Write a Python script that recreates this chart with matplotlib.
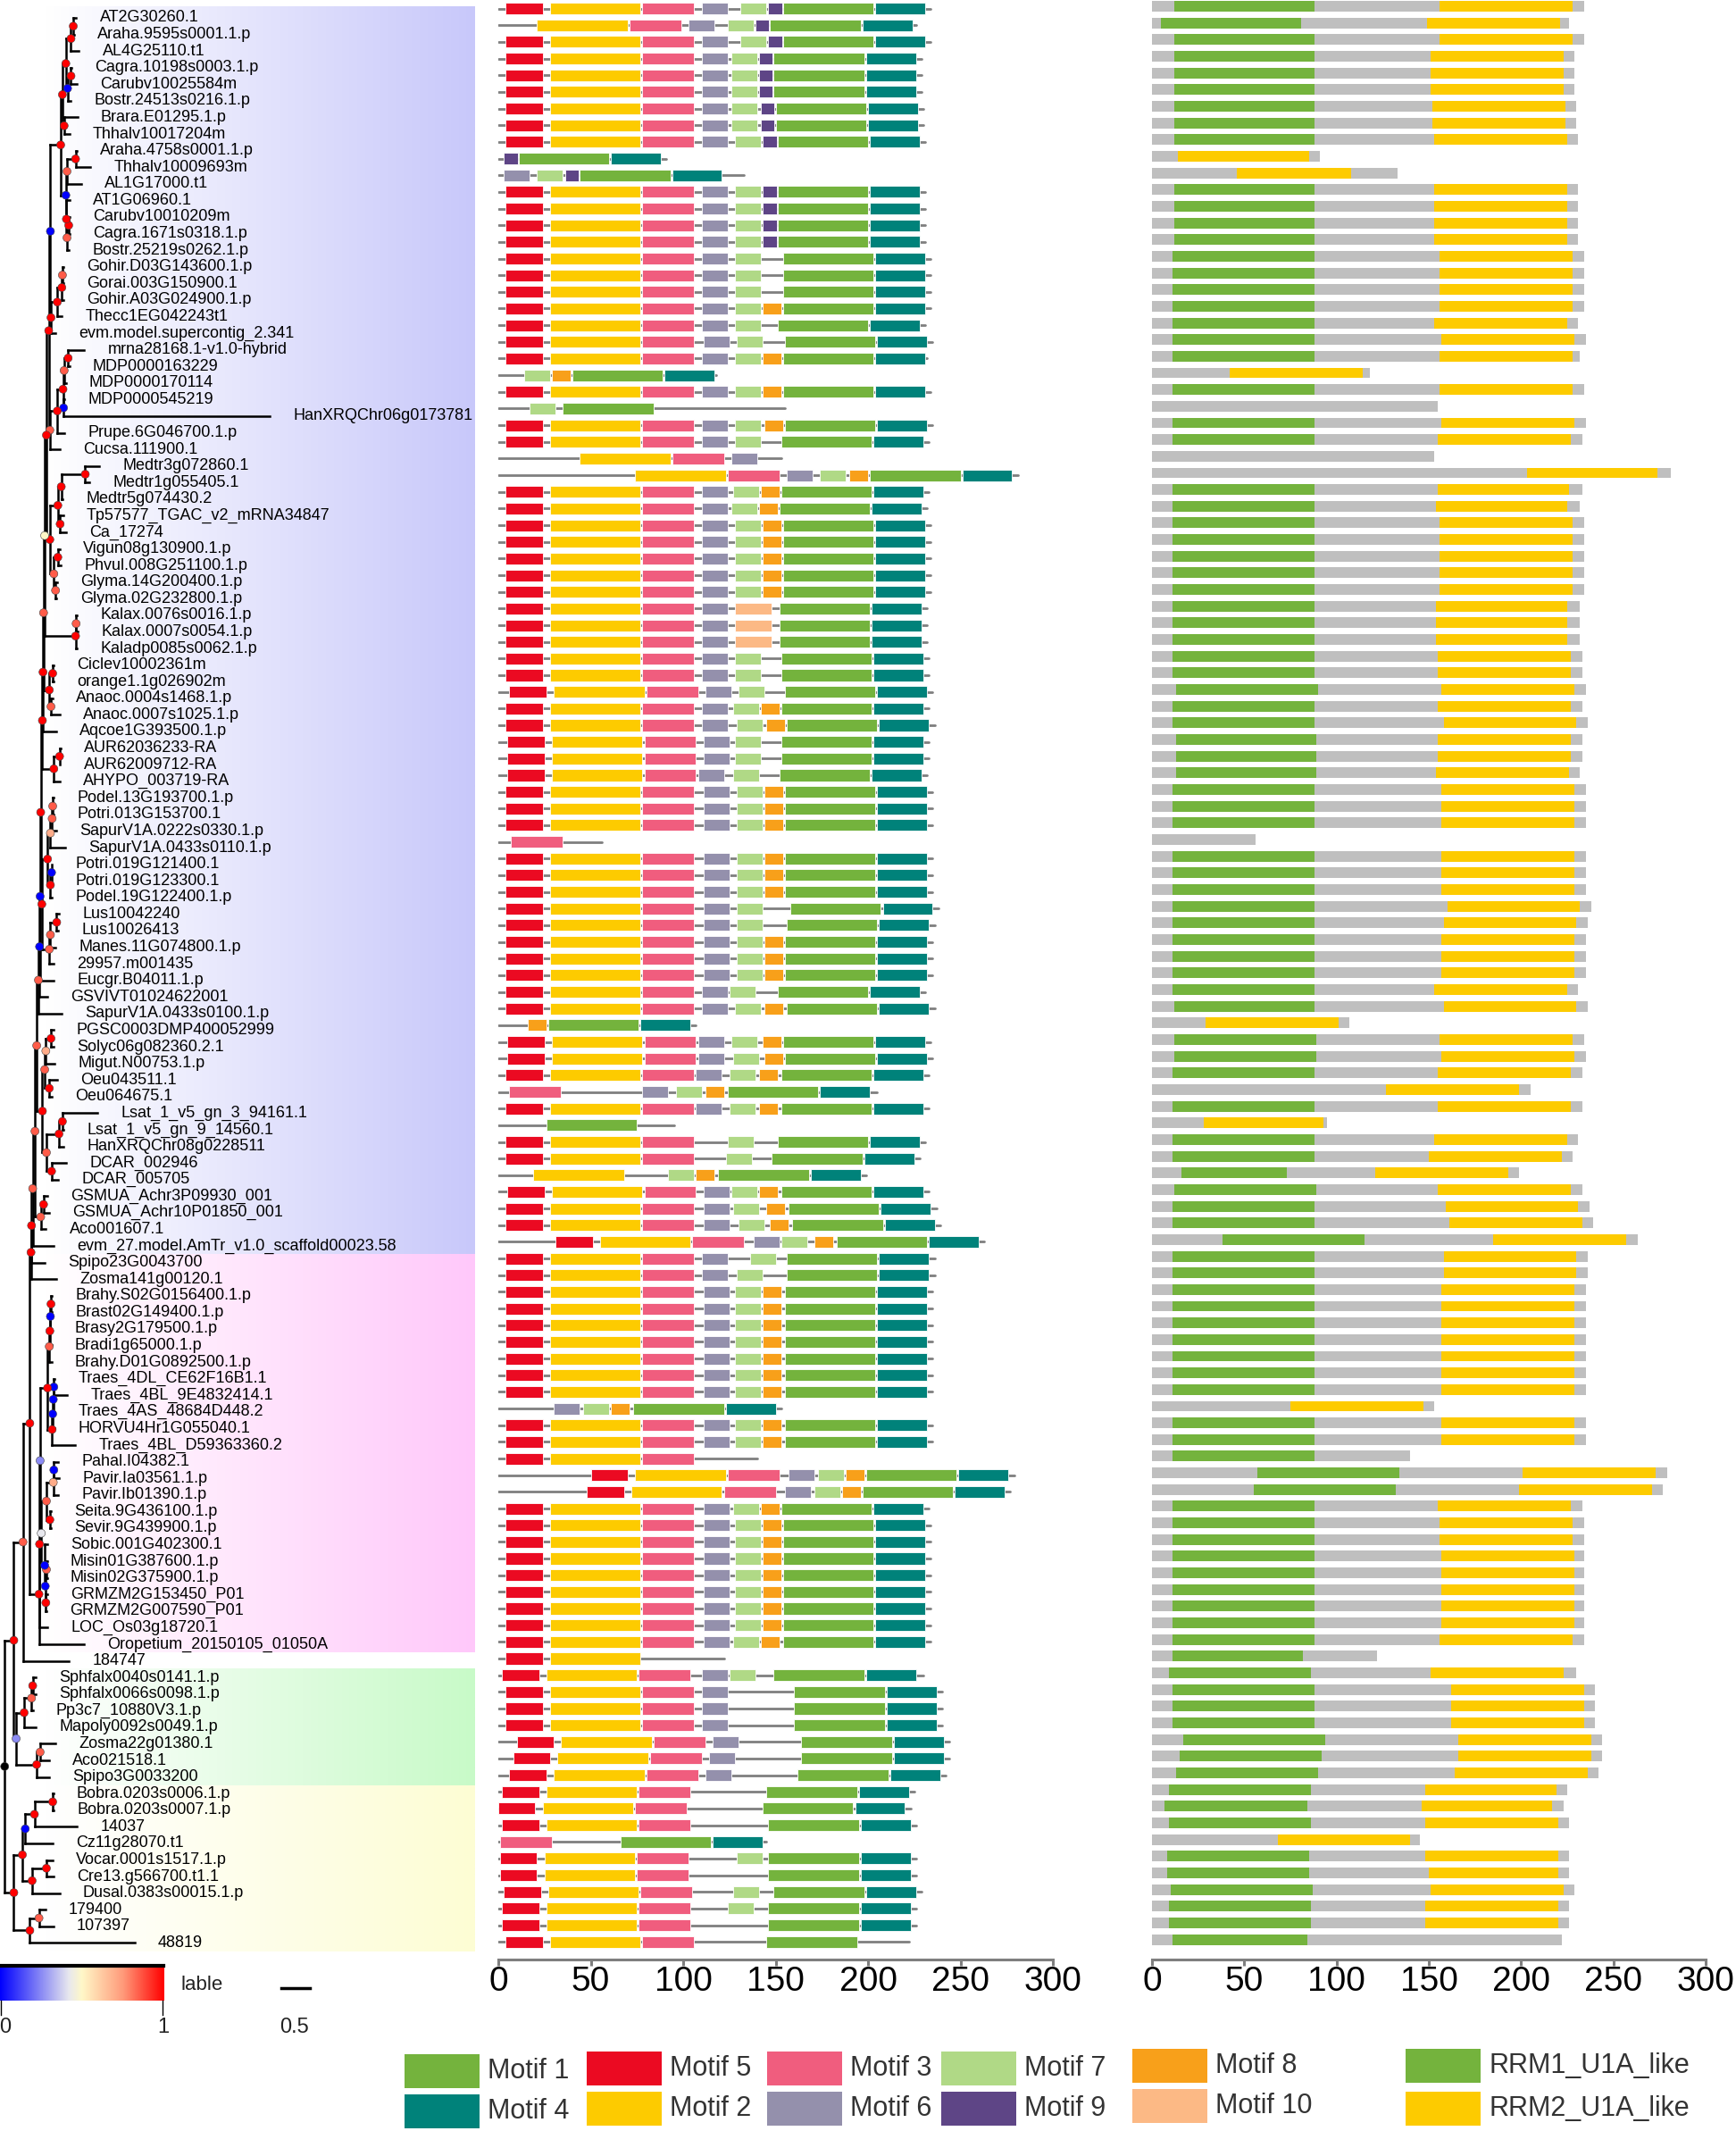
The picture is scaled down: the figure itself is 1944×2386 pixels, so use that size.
import matplotlib
matplotlib.use("Agg")
import matplotlib.pyplot as plt
import numpy as np
from matplotlib.patches import Rectangle
from matplotlib.collections import LineCollection
from matplotlib.colors import LinearSegmentedColormap, to_rgb

plt.rcParams['font.family'] = ['Liberation Sans', 'DejaVu Sans']

W, H, DPI = 1944, 2386, 100

# ---------------------------------------------------------------- tree data
# newick-like clades: "support:depth" after each clade, "name:depth" for tips
# (depth = distance from the root, substitutions per site)
brassicaceae = (
    "(((((AT2G30260.1:1.25,Araha.9595s0001.1.p:1.21)1.0:1.20,AL4G25110.t1:1.30)1.0:1.16,"
    "((Cagra.10198s0003.1.p:1.17,Carubv10025584m:1.26)1.0:1.16,Bostr.24513s0216.1.p:1.15)0.0:1.10)1.0:1.07,"
    "(Brara.E01295.1.p:1.27,Thhalv10017204m:1.13)1.0:1.04)1.0:1.01,"
    "(((Araha.4758s0001.1.p:1.26,Thhalv10009693m:1.50)1.0:1.24,AL1G17000.t1:1.34)0.85:1.09,"
    "(AT1G06960.1:1.14,((Carubv10010209m:1.14,Cagra.1671s0318.1.p:1.14)1.0:1.12,"
    "Bostr.25219s0262.1.p:1.12)0.85:1.09)1.0:1.08)0.0:1.07)1.0:0.98"
)
malvales = (
    "((((Gohir.D03G143600.1.p:1.03,Gorai.003G150900.1:1.03)0.85:1.01,Gohir.A03G024900.1.p:1.03)1.0:1.00,"
    "Thecc1EG042243t1:1.00)1.0:0.92,evm.model.supercontig_2.341:0.89)1.0:0.81"
)
rosales = (
    "(((((mrna28168.1-v1.0-hybrid:1.39,MDP0000163229:1.13)1.0:1.11,MDP0000170114:1.07)0.85:1.04,"
    "(MDP0000545219:1.05,HanXRQChr06g0173781:4.64)0.0:1.03)1.0:1.02,Prupe.6G046700.1.p:1.05)1.0:0.92,"
    "Cucsa.111900.1:0.96)0.85:0.79"
)
fabaceae = (
    "((((Medtr3g072860.1:1.66,Medtr1g055405.1:1.48)1.0:1.41,Medtr5g074430.2:1.01)1.0:0.99,"
    "(Tp57577_TGAC_v2_mRNA34847:1.02,Ca_17274:1.07)1.0:0.97)1.0:0.93,"
    "((Vigun08g130900.1.p:0.96,Phvul.008G251100.1.p:0.98)1.0:0.93,"
    "(Glyma.14G200400.1.p:0.92,Glyma.02G232800.1.p:0.91)0.85:0.89)0.85:0.86)1.0:0.79"
)
kalanchoe = ("((Kalax.0076s0016.1.p:1.26,Kalax.0007s0054.1.p:1.28)0.85:1.25,"
             "Kaladp0085s0062.1.p:1.26)1.0:1.24")
sapindales = ("((Ciclev10002361m:0.85,orange1.1g026902m:0.86)1.0:0.84,"
              "(Anaoc.0004s1468.1.p:0.84,Anaoc.0007s1025.1.p:0.96)0.85:0.81)1.0:0.78")
amaranthaceae = "((AUR62036233-RA:0.98,AUR62009712-RA:0.97)1.0:0.96,AHYPO_003719-RA:0.96)1.0:0.86"
malpighiales = (
    "(((((Podel.13G193700.1.p:0.86,Potri.013G153700.1:0.86)0.85:0.84,SapurV1A.0222s0330.1.p:0.90)0.85:0.83,"
    "SapurV1A.0433s0110.1.p:1.06)0.7:0.80,((Potri.019G121400.1:0.83,Potri.019G123300.1:0.83)0.0:0.82,"
    "Podel.19G122400.1.p:0.83)1.0:0.80)1.0:0.75,(((Lus10042240:0.95,Lus10026413:0.93)1.0:0.91,"
    "Manes.11G074800.1.p:0.89)0.85:0.80,29957.m001435:0.85)0.85:0.78)1.0:0.65"
)
asterids = (
    "((((PGSC0003DMP400052999:0.85,Solyc06g082360.2.1:0.85)1.0:0.81,Migut.N00753.1.p:0.87)0.7:0.72,"
    "(Oeu043511.1:0.92,Oeu064675.1:0.82)1.0:0.78)0.85:0.70,"
    "(((Lsat_1_v5_gn_3_94161.1:1.62,Lsat_1_v5_gn_9_14560.1:1.03)1.0:1.01,HanXRQChr08g0228511:1.03)1.0:0.95,"
    "(DCAR_002946:1.08,DCAR_005705:0.93)1.0:0.82)0.85:0.73)1.0:0.66"
)
monocots = ("((GSMUA_Achr3P09930_001:0.74,GSMUA_Achr10P01850_001:0.77)1.0:0.68,"
            "Aco001607.1:0.72)0.85:0.63")
# ladder of the seed-plant backbone: (clade joined, support, depth)
backbone = [
    (malvales, 0.0, 0.80), (rosales, 1.0, 0.77), (fabaceae, 1.0, 0.73), (kalanchoe, 0.5, 0.70),
    (sapindales, 0.85, 0.68), ("Aqcoe1G393500.1.p:0.90", 1.0, 0.67), (amaranthaceae, 1.0, 0.66),
    (malpighiales, 1.0, 0.63), ("Eucgr.B04011.1.p:0.86", 0.0, 0.62),
    ("GSVIVT01024622001:0.74", 0.0, 0.61), ("SapurV1A.0433s0100.1.p:0.99", 0.85, 0.59),
    (asterids, 0.85, 0.56), (monocots, 0.85, 0.53),
    ("evm_27.model.AmTr_v1.0_scaffold00023.58:0.85", 0.85, 0.49),
    ("Spipo23G0043700:0.70", 1.0, 0.47), ("Zosma141g00120.1:0.90", 1.0, 0.46),
]
pooideae = (
    "(((((Brahy.S02G0156400.1.p:0.83,Brast02G149400.1.p:0.83)1.0:0.81,Brasy2G179500.1.p:0.81)0.0:0.80,"
    "Bradi1g65000.1.p:0.82)1.0:0.79,Brahy.D01G0892500.1.p:0.82)0.85:0.78,"
    "((((Traes_4DL_CE62F16B1.1:0.87,Traes_4BL_9E4832414.1:1.09)0.0:0.86,Traes_4AS_48684D448.2:0.87)0.0:0.85,"
    "HORVU4Hr1G055040.1:0.87)0.0:0.84,Traes_4BL_D59363360.2:1.23)1.0:0.83)1.0:0.75"
)
panicoideae = (
    "((((Pahal.I04382.1:0.94,Pavir.Ia03561.1.p:0.95)0.0:0.86,Pavir.Ib01390.1.p:0.93)0.7:0.85,"
    "(Seita.9G436100.1.p:0.81,Sevir.9G439900.1.p:0.81)1.0:0.79)0.85:0.73,"
    "(Sobic.001G402300.1:0.74,((Misin01G387600.1.p:0.74,Misin02G375900.1.p:0.74)0.85:0.73,"
    "(GRMZM2G153450_P01:0.74,GRMZM2G007590_P01:0.73)1.0:0.72)0.0:0.71)0.0:0.70)0.42:0.64"
)
grasses = ("(((" + pooideae + "," + panicoideae + ")0.25:0.62,LOC_Os03g18720.1:0.75)1.0:0.61,"
           "Oropetium_20150105_01050A:1.38)1.0:0.60")
bryophytes = (
    "((((Sphfalx0040s0141.1.p:0.54,Sphfalx0066s0098.1.p:0.54)1.0:0.49,Pp3c7_10880V3.1.p:0.49)0.85:0.47,"
    "Mapoly0092s0049.1.p:0.55)1.0:0.34,((Zosma22g01380.1:0.89,Aco021518.1:0.78)0.85:0.62,"
    "Spipo3G0033200:0.77)1.0:0.56)0.25:0.20"
)
algae = (
    "(((((Bobra.0203s0006.1.p:0.85,Bobra.0203s0007.1.p:0.86)1.0:0.84,14037:1.26)1.0:0.52,"
    "Cz11g28070.t1:0.84)0.0:0.36,((Vocar.0001s1517.1.p:0.84,Cre13.g566700.t1.1:0.86)1.0:0.73,"
    "Dusal.0383s00015.1.p:0.96)1.0:0.48)1.0:0.31,((179400:0.71,107397:0.85)0.85:0.60,48819:2.27)1.0:0.44)1.0:0.16"
)

# ---------------------------------------------------------------- protein data (aa)
protein_len = [
    234, 226, 234, 229, 229, 229, 230, 230, 231, 91, 133, 231, 231, 231, 231, 234, 234, 234, 234, 231,
    235, 232, 118, 234, 155, 235, 233, 153, 281, 233, 232, 234, 234, 234, 234, 234, 232, 232, 232, 233,
    233, 235, 233, 236, 233, 233, 232, 235, 235, 235, 56, 235, 235, 235, 238, 236, 235, 235, 235, 231,
    236, 107, 234, 235, 233, 205, 233, 95, 231, 228, 199, 233, 237, 239, 263, 236, 236, 235, 235, 235,
    235, 235, 235, 235, 153, 235, 235, 140, 279, 277, 233, 234, 234, 234, 234, 234, 234, 234, 234, 122,
    230, 240, 240, 240, 244, 244, 242, 225, 223, 226, 145, 226, 226, 229, 226, 226, 222,
]

# "motif:start" for each protein, top to bottom
motif_sites = [
    "5:4 2:28 3:78 6:110 7:131 9:146 1:154 4:204", "2:21 3:71 6:103 7:124 9:139 1:147 4:197",
    "5:4 2:28 3:78 6:110 7:131 9:146 1:154 4:204", "5:4 2:28 3:78 6:110 7:126 9:141 1:149 4:199",
    "5:4 2:28 3:78 6:110 7:126 9:141 1:149 4:199", "5:4 2:28 3:78 6:110 7:126 9:141 1:149 4:199",
    "5:4 2:28 3:78 6:110 7:126 9:142 1:150 4:200", "5:4 2:28 3:78 6:110 7:126 9:142 1:150 4:200",
    "5:4 2:28 3:78 6:110 7:128 9:143 1:151 4:201", "9:3 1:11 4:61",
    "6:3 7:21 9:36 1:44 4:94", "5:4 2:28 3:78 6:110 7:128 9:143 1:151 4:201",
    "5:4 2:28 3:78 6:110 7:128 9:143 1:151 4:201", "5:4 2:28 3:78 6:110 7:128 9:143 1:151 4:201",
    "5:4 2:28 3:78 6:110 7:128 9:143 1:151 4:201", "5:4 2:28 3:78 6:110 7:128 1:154 4:204",
    "5:4 2:28 3:78 6:110 7:128 1:154 4:204", "5:4 2:28 3:78 6:110 7:128 1:154 4:204",
    "5:4 2:28 3:78 6:110 7:128 8:143 1:154 4:204", "5:4 2:28 3:78 6:110 7:128 1:151 4:201",
    "5:4 2:28 3:78 6:111 7:129 1:155 4:205", "5:4 2:28 3:78 6:110 7:128 8:143 1:154 4:204",
    "7:14 8:29 1:40 4:90", "5:4 2:28 3:78 6:110 7:128 8:143 1:154 4:204",
    "7:17 1:35", "5:4 2:28 3:78 6:110 7:128 8:144 1:155 4:205",
    "5:4 2:28 3:78 6:110 7:128 1:153 4:203", "2:44 3:94 6:126",
    "2:74 3:124 6:156 7:174 8:190 1:201 4:251", "5:4 2:28 3:78 6:110 7:127 8:142 1:153 4:203",
    "5:4 2:28 3:78 6:110 7:126 8:141 1:152 4:202", "5:4 2:28 3:78 6:110 7:128 8:143 1:154 4:204",
    "5:4 2:28 3:78 6:110 7:128 8:143 1:154 4:204", "5:4 2:28 3:78 6:110 7:128 8:143 1:154 4:204",
    "5:4 2:28 3:78 6:110 7:128 8:143 1:154 4:204", "5:4 2:28 3:78 6:110 7:128 8:143 1:154 4:204",
    "5:4 2:28 3:78 6:110 10:128 1:152 4:202", "5:4 2:28 3:78 6:110 10:128 1:152 4:202",
    "5:4 2:28 3:78 6:110 10:128 1:152 4:202", "5:4 2:28 3:78 6:110 7:128 1:153 4:203",
    "5:4 2:28 3:78 6:110 7:128 1:153 4:203", "5:6 2:30 3:80 6:112 7:130 1:155 4:205",
    "5:4 2:28 3:78 6:110 7:127 8:142 1:153 4:203", "5:4 2:28 3:78 6:110 7:129 8:145 1:156 4:206",
    "5:5 2:29 3:79 6:111 7:128 1:153 4:203", "5:5 2:29 3:79 6:111 7:128 1:153 4:203",
    "5:5 2:29 3:79 6:108 7:127 1:152 4:202", "5:4 2:28 3:78 6:111 7:129 8:144 1:155 4:205",
    "5:4 2:28 3:78 6:111 7:129 8:144 1:155 4:205", "5:4 2:28 3:78 6:111 7:129 8:144 1:155 4:205",
    "3:7", "5:4 2:28 3:78 6:111 7:129 8:144 1:155 4:205",
    "5:4 2:28 3:78 6:111 7:129 8:144 1:155 4:205", "5:4 2:28 3:78 6:111 7:129 8:144 1:155 4:205",
    "5:4 2:28 3:78 6:111 7:129 1:158 4:208", "5:4 2:28 3:78 6:111 7:129 1:156 4:206",
    "5:4 2:28 3:78 6:111 7:129 8:144 1:155 4:205", "5:4 2:28 3:78 6:111 7:129 8:144 1:155 4:205",
    "5:4 2:28 3:78 6:111 7:129 8:144 1:155 4:205", "5:4 2:28 3:78 6:110 7:125 1:151 4:201",
    "5:4 2:28 3:78 6:110 7:128 8:144 1:156 4:206", "8:16 1:27 4:77",
    "5:5 2:29 3:79 6:108 7:126 8:143 1:154 4:204", "5:5 2:29 3:79 6:108 7:127 8:144 1:155 4:205",
    "5:4 2:28 3:78 6:107 7:125 8:141 1:153 4:203", "3:6 6:78 7:96 8:112 1:124 4:174",
    "5:4 2:28 3:78 6:107 7:125 8:141 1:153 4:203", "1:26",
    "5:4 2:28 3:78 7:124 1:151 4:201", "5:4 2:28 3:78 7:123 1:148 4:198",
    "2:19 7:92 8:107 1:119 4:169", "5:5 2:29 3:79 6:111 7:126 8:141 1:153 4:203",
    "5:4 2:28 3:78 6:111 7:127 8:145 1:157 4:207", "5:4 2:28 3:78 6:111 7:130 8:147 1:159 4:209",
    "5:31 2:55 3:105 6:138 7:153 8:171 1:183 4:233", "5:4 2:28 3:78 6:110 7:136 1:156 4:206",
    "5:4 2:28 3:78 6:110 7:129 1:156 4:206", "5:4 2:28 3:78 6:111 7:128 8:143 1:155 4:205",
    "5:4 2:28 3:78 6:111 7:128 8:143 1:155 4:205", "5:4 2:28 3:78 6:111 7:128 8:143 1:155 4:205",
    "5:4 2:28 3:78 6:111 7:128 8:143 1:155 4:205", "5:4 2:28 3:78 6:111 7:128 8:143 1:155 4:205",
    "5:4 2:28 3:78 6:111 7:128 8:143 1:155 4:205", "5:4 2:28 3:78 6:111 7:128 8:143 1:155 4:205",
    "6:30 7:46 8:61 1:73 4:123", "5:4 2:28 3:78 6:111 7:128 8:143 1:155 4:205",
    "5:4 2:28 3:78 6:111 7:128 8:143 1:155 4:205", "5:4 2:28 3:78",
    "5:50 2:74 3:124 6:157 7:173 8:188 1:199 4:249", "5:48 2:72 3:122 6:155 7:171 8:186 1:197 4:247",
    "5:4 2:28 3:78 6:111 7:127 8:142 1:153 4:203", "5:4 2:28 3:78 6:111 7:128 8:143 1:154 4:204",
    "5:4 2:28 3:78 6:111 7:128 8:143 1:154 4:204", "5:4 2:28 3:78 6:111 7:128 8:143 1:154 4:204",
    "5:4 2:28 3:78 6:111 7:128 8:143 1:154 4:204", "5:4 2:28 3:78 6:111 7:128 8:143 1:154 4:204",
    "5:4 2:28 3:78 6:111 7:128 8:143 1:154 4:204", "5:4 2:28 3:78 6:111 7:128 8:143 1:154 4:204",
    "5:4 2:28 3:78 6:111 7:127 8:142 1:154 4:204", "5:4 2:28",
    "5:2 2:26 3:76 6:110 7:125 1:149 4:199", "5:4 2:28 3:78 6:110 1:160 4:210",
    "5:4 2:28 3:78 6:110 1:160 4:210", "5:4 2:28 3:78 6:110 1:160 4:210",
    "5:10 2:34 3:84 6:116 1:164 4:214", "5:8 2:32 3:82 6:114 1:164 4:214",
    "5:6 2:30 3:80 6:112 1:162 4:212", "5:2 2:26 3:76 1:145 4:195",
    "5:0 2:24 3:74 1:143 4:193", "5:2 2:26 3:76 1:146 4:196",
    "3:1 1:66 4:116", "5:1 2:25 3:75 7:129 1:146 4:196",
    "5:1 2:25 3:75 1:146 4:196", "5:3 2:27 3:77 7:127 1:149 4:199",
    "5:2 2:26 3:76 7:124 1:146 4:196", "5:2 2:26 3:76 1:146 4:196",
    "5:4 2:28 3:78 1:145",
]
motif_width = {1: 49, 2: 49, 3: 28, 4: 27, 5: 20, 6: 14, 7: 14, 8: 10, 9: 7.5, 10: 20}

# conserved domains (start, end), None when absent
rrm1 = ([(12, 88), (5, 81)] + [(12, 88)] * 7 + [None, None] + [(12, 88)] * 4
        + [(11, 88)] * 7 + [None, (11, 88), None, (11, 88), (11, 88), None, None]
        + [(11, 88)] * 12 + [(13, 90), (11, 88), (11, 88), (13, 89), (13, 89), (13, 89)]
        + [(11, 88)] * 3 + [None] + [(11, 88)] * 9 + [(12, 88), None, (12, 89), (12, 89), (11, 88), None,
        (11, 88), None, (11, 88), (11, 88), (16, 73), (12, 89), (11, 88), (11, 88), (38, 115)]
        + [(11, 88)] * 9 + [None] + [(11, 88)] * 3 + [(57, 134), (55, 132)] + [(11, 88)] * 9
        + [(11, 82), (9, 86), (11, 88), (11, 88), (11, 88), (17, 94), (15, 92), (13, 90), (9, 86), (7, 84),
        (9, 86), None, (8, 85), (8, 85), (10, 87), (9, 86), (9, 86), (11, 84)])
rrm2 = ([(156, 228), (149, 221), (156, 228)] + [(151, 223)] * 3 + [(152, 224)] * 2 + [(153, 225)]
        + [(14, 85), (46, 108)] + [(153, 225)] * 4 + [(156, 228)] * 4
        + [(153, 225), (157, 229), (156, 228), (42, 114), (156, 228), None, (157, 229), (155, 227), None,
        (203, 274), (155, 226), (154, 225)] + [(156, 228)] * 5 + [(154, 225)] * 3 + [(155, 227)] * 2
        + [(157, 229), (155, 227), (158, 230), (155, 227), (155, 227), (154, 226)] + [(157, 229)] * 3
        + [None] + [(157, 229)] * 3 + [(160, 232), (158, 230)] + [(157, 229)] * 3
        + [(153, 225), (158, 230), (29, 101), (156, 228), (157, 229), (155, 227), (127, 199), (155, 227),
        (28, 93), (153, 225), (150, 222), (121, 193), (155, 227), (159, 231), (161, 233), (185, 257)]
        + [(158, 230)] * 2 + [(157, 229)] * 7 + [(75, 147)] + [(157, 229)] * 2
        + [None, (201, 273), (199, 271), (155, 227), (156, 228), (156, 228)] + [(157, 229)] * 5
        + [(156, 228), None, (151, 223)] + [(162, 234)] * 3
        + [(166, 238), (166, 238), (164, 236), (148, 219), (146, 217), (148, 220), (68, 140), (148, 220),
        (150, 220), (151, 223), (148, 220), (148, 220), None])

# background bands behind the tree (first row, last row, colour)
bands = [(0.35, 75.5, '#c8c8fa'), (75.5, 99.5, '#ffc8fa'), (100.5, 107.5, '#c8fac8'), (107.5, 117.5, '#fdfdd4')]

motif_colors = {1: '#74b33d', 2: '#fdcb00', 3: '#f05d7e', 4: '#00827a', 5: '#eb0a22',
                6: '#9490ac', 7: '#b0d986', 8: '#f8a01a', 9: '#5e4586', 10: '#fcb985'}
legend_cols = [[('Motif 1', 1), ('Motif 4', 4)], [('Motif 5', 5), ('Motif 2', 2)],
               [('Motif 3', 3), ('Motif 6', 6)], [('Motif 7', 7), ('Motif 9', 9)],
               [('Motif 8', 8), ('Motif 10', 10)], [('RRM1_U1A_like', 1), ('RRM2_U1A_like', 2)]]

support_cmap = LinearSegmentedColormap.from_list(
    'lable', [(0.0, '#0000ff'), (0.42, '#e8e8ee'), (0.5, '#fff8c8'), (0.75, '#ff9a7a'), (1.0, '#ff0000')])


def parse_newick(text):
    pos = 0

    def token():
        nonlocal pos
        start = pos
        while pos < len(text) and text[pos] not in ',():;':
            pos += 1
        return text[start:pos]

    def node():
        nonlocal pos
        kids = []
        if text[pos] == '(':
            pos += 1
            kids.append(node())
            while text[pos] == ',':
                pos += 1
                kids.append(node())
            pos += 1
        label = token()
        depth = 0.0
        if pos < len(text) and text[pos] == ':':
            pos += 1
            depth = float(token())
        return {'label': label, 'depth': depth, 'kids': kids}

    return node()


# assemble the full tree
seed = brassicaceae
for clade, sup, dep in backbone:
    seed = "({},{}){}:{}".format(seed, clade, sup, dep)
land = "(({},{})1.0:0.44,184747:1.12)0.85:0.32".format(seed, grasses)
tree_text = "(({},{})1.0:0.16,{})NA:0;".format(land, bryophytes, algae)
root = parse_newick(tree_text)

leaves = []


def layout(n):
    if not n['kids']:
        leaves.append(n)
        n['y'] = len(leaves)
    else:
        for k in n['kids']:
            layout(k)
        n['y'] = (n['kids'][0]['y'] + n['kids'][-1]['y']) / 2


layout(root)

fig = plt.figure(figsize=(W / DPI, H / DPI), dpi=DPI)
bottom = 1 - 2194 / H
height = 2194 / H

# ---------------------------------------------------------------- tree panel
ax_t = fig.add_axes([0, bottom, 560 / W, height])
for r0, r1, col in bands:
    rgb = np.array(to_rgb(col))
    t = np.linspace(0, 1, 256)[:, None]
    grad = (1 - t * (1 - rgb))[None, :, :].repeat(2, axis=0)
    ax_t.imshow(grad, extent=(0.70, 8.23, r1, r0), aspect='auto', interpolation='bilinear', zorder=0)

segs, nodes_x, nodes_y, nodes_c = [], [], [], []


def collect(n):
    if not n['kids']:
        return
    d = n['depth']
    segs.append([(d, n['kids'][0]['y']), (d, n['kids'][-1]['y'])])
    for k in n['kids']:
        segs.append([(d, k['y']), (k['depth'], k['y'])])
        collect(k)
    nodes_x.append(d)
    nodes_y.append(n['y'])
    nodes_c.append('black' if n['label'] == 'NA' else support_cmap(float(n['label'])))


collect(root)
ax_t.add_collection(LineCollection(segs, colors='black', linewidths=1.8, capstyle='projecting', zorder=2))
ax_t.scatter(nodes_x, nodes_y, s=42, c=nodes_c, edgecolors='#444444', linewidths=0.4, zorder=3)
for lf in leaves:
    ax_t.text(lf['depth'] + 0.41, lf['y'], lf['label'], fontsize=13, va='center', ha='left', zorder=4)
ax_t.set_xlim(-0.082, (560 - 5.24) / 64)
ax_t.set_ylim(118.0, -0.076)
ax_t.axis('off')


def style_axis(ax):
    ax.set_xlim(0, 300)
    for s in ('top', 'left', 'right'):
        ax.spines[s].set_visible(False)
    ax.spines['bottom'].set_color('#7f7f7f')
    ax.spines['bottom'].set_linewidth(2.2)
    ax.set_xticks(range(0, 301, 50))
    ax.set_yticks([])
    ax.tick_params(axis='x', length=5, width=2.2, color='#7f7f7f', labelsize=28, pad=0)
    ax.patch.set_alpha(0)


# ---------------------------------------------------------------- motif panel
ax_m = fig.add_axes([558 / W, bottom, 621 / W, height])
for i, (length, sites) in enumerate(zip(protein_len, motif_sites), start=1):
    ax_m.plot([0, length], [i, i], color='#7f7f7f', lw=2.0, solid_capstyle='round', zorder=1)
    for item in sites.split():
        m, start = item.split(':')
        m = int(m)
        ax_m.add_patch(Rectangle((float(start), i - 0.35), motif_width[m], 0.70,
                                 facecolor=motif_colors[m], edgecolor='white', lw=0.6, zorder=2))
style_axis(ax_m)
ax_m.set_ylim(118.06, 0.486)

# ---------------------------------------------------------------- domain panel
ax_d = fig.add_axes([1290 / W, bottom, 620 / W, height])
for i, length in enumerate(protein_len, start=1):
    ax_d.add_patch(Rectangle((0, i - 0.32), length, 0.64, facecolor='#bfbfbf', edgecolor='none'))
    if rrm1[i - 1] is not None:
        s, e = rrm1[i - 1]
        ax_d.add_patch(Rectangle((s, i - 0.32), e - s, 0.64, facecolor=motif_colors[1], edgecolor='none'))
    if rrm2[i - 1] is not None:
        s, e = rrm2[i - 1]
        ax_d.add_patch(Rectangle((s, i - 0.32), e - s, 0.64, facecolor=motif_colors[2], edgecolor='none'))
style_axis(ax_d)
ax_d.set_ylim(118.2, 0.625)

# ---------------------------------------------------------------- overlay: colour bar, scale, legend
ov = fig.add_axes([0, 0, 1, 1])
grad = support_cmap(np.linspace(0, 1, 256))[None, :, :]
ov.imshow(grad, extent=(0, 183, 2240, 2202), aspect='auto', interpolation='bilinear')
ov.plot([0, 183], [2201, 2201], color='black', lw=3)
for x in (1, 182):
    ov.plot([x, x], [2240, 2256], color='black', lw=1)
ov.text(6, 2270, '0', fontsize=17, ha='center', va='center', color='#222222')
ov.text(183, 2270, '1', fontsize=17, ha='center', va='center', color='#222222')
ov.text(202, 2222, 'lable', fontsize=16, ha='left', va='center', color='#222222')
ov.plot([315, 347], [2226, 2226], color='black', lw=2.5)
ov.text(329, 2270, '0.5', fontsize=17, ha='center', va='center', color='#222222')

col_x = [453, 657, 859, 1054, 1268, 1574]
row_y = [[2300, 2345], [2297, 2342], [2297, 2342], [2297, 2342], [2294, 2339], [2294, 2342]]
for cx, ry, entries in zip(col_x, row_y, legend_cols):
    for y0, (name, m) in zip(ry, entries):
        ov.add_patch(Rectangle((cx, y0), 84, 38, facecolor=motif_colors[m], edgecolor='none'))
        ov.text(cx + 93, y0 + 19, name, fontsize=22, ha='left', va='center', color='#333333')
ov.set_xlim(0, W)
ov.set_ylim(H, 0)
ov.axis('off')

fig.savefig('out.png', dpi=DPI, facecolor='white')
